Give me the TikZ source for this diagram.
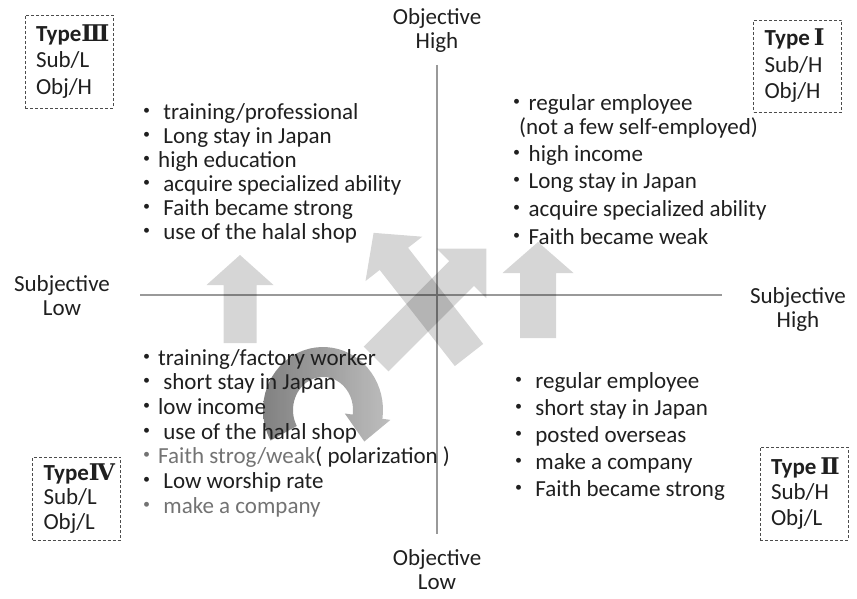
\documentclass[tikz,border=0pt]{standalone}
\usepackage{fontspec}
\setmainfont{Carlito}
\newfontfamily\cjk{Noto Sans CJK JP}
\newfontfamily\numfont{DejaVu Serif}
\newcommand{\bul}{{\cjk ・}}
% fat block arrow: tail, angle, length, shaft half width, head half width, head length
\newcommand{\fatarrow}[6]{%
  \fill[arrowfill,shift={#1},rotate=#2] (0,-#4) -- ({#3-#6},-#4) -- ({#3-#6},-#5) -- (#3,0)
    -- ({#3-#6},#5) -- ({#3-#6},#4) -- (0,#4) -- cycle;}
\tikzset{
  item/.style={anchor=base west,inner sep=0pt,text=black!88,font=\fontsize{23}{24}\selectfont},
  axislabel/.style={align=center,inner sep=0pt,text=black!88,font=\fontsize{23}{24}\selectfont},
  typebox/.style={draw=black!70,dash pattern=on 3pt off 2pt,line width=0.8pt,align=left,
    inner xsep=11pt,inner ysep=0pt,text width=66pt,text=black!88},
  arrowfill/.style={fill=black,fill opacity=0.16},
  axis/.style={draw=black!40,line width=1.6pt}
}
\begin{document}
\begin{tikzpicture}[x=1pt,y=-1pt]
\useasboundingbox (0,0) rectangle (857,599);
% axes
\draw[axis] (437,65) -- (437,534);
\draw[axis] (140,295) -- (722,295);
\node[axislabel] (objhigh) at (437,30) {Objective\\High};
\node[axislabel] (objlow) at (437,570) {Objective\\Low};
\node[axislabel] (sublow) at (62,296) {Subjective\\Low};
\node[axislabel] (subhigh) at (798,309) {Subjective\\High};
% block arrows
\fatarrow{(240,343)}{90}{88}{16.5}{33.5}{30}
\fatarrow{(538,338)}{90}{96}{18}{35.5}{31}
\fatarrow{(469,355)}{128}{155}{18}{36}{33}
\fatarrow{(376,359)}{45}{156}{17.5}{35}{35}
% curved arrow
\shade[left color=black!58,right color=black!30,fill opacity=0.85]
  plot[domain=151:368,samples=40] ({323+60*cos(\x)},{410+63*sin(\x)})
  -- (390.4,419.9) -- (364.3,441.5) -- (344.8,413.5)
  -- plot[domain=368:151,samples=40] ({323+30*cos(\x)},{410+33*sin(\x)}) -- cycle;
% type boxes
\node[typebox,minimum height=93pt,font=\fontsize{23}{26.5}\selectfont] (t3) at (69,61.5)
  {\textbf{Type}{\numfont\bfseries Ⅲ}\\Sub/L\\Obj/H};
\node[typebox,minimum height=92pt,font=\fontsize{23}{26.5}\selectfont] (t1) at (797.5,66)
  {\textbf{Type}\,{\numfont\bfseries Ⅰ}\\Sub/H\\Obj/H};
\node[typebox,minimum height=83pt,font=\fontsize{23}{24.5}\selectfont] (t4) at (76.5,498.5)
  {\textbf{Type}{\numfont\bfseries Ⅳ}\\Sub/L\\Obj/L};
\node[typebox,minimum height=93pt,font=\fontsize{23}{25.5}\selectfont] (t2) at (804,493.5)
  {\textbf{Type}\,{\numfont\bfseries Ⅱ}\\Sub/H\\Obj/L};
% type III list
\foreach \txt [count=\i] in {\bul{} training/professional,\bul{} Long stay in Japan,
  \bul high education,\bul{} acquire specialized ability,\bul{} Faith became strong,
  \bul{} use of the halal shop}
  \node[item] (tl\i) at (135,{120+23.8*(\i-1)}) {\txt};
% type I list
\node[item] (tr1) at (505.5,111) {\bul regular employee};
\node[item] (tr2) at (519,135) {(not a few self-employed)};
\node[item] (tr3) at (505.5,162) {\bul high income};
\node[item] (tr4) at (505.5,189) {\bul Long stay in Japan};
\node[item] (tr5) at (505.5,216) {\bul acquire specialized ability};
\node[item] (tr6) at (505.5,244) {\bul Faith became weak};
% type IV list
\foreach \txt [count=\i] in {\bul training/factory worker,\bul{} short stay in Japan,
  \bul low income,\bul{} use of the halal shop,
  {{\color{black!55}\bul Faith strog/weak}( polarization )},
  \bul{} Low worship rate,{{\color{black!55}\bul{} make a company}}}
  \node[item] (bl\i) at (135,{365+24.7*(\i-1)}) {\txt};
% type II list
\foreach \txt [count=\i] in {\bul{} regular employee,\bul{} short stay in Japan,
  \bul{} posted overseas,\bul{} make a company,\bul{} Faith became strong}
  \node[item] (br\i) at (507,{388+27.2*(\i-1)}) {\txt};
\end{tikzpicture}
\end{document}
